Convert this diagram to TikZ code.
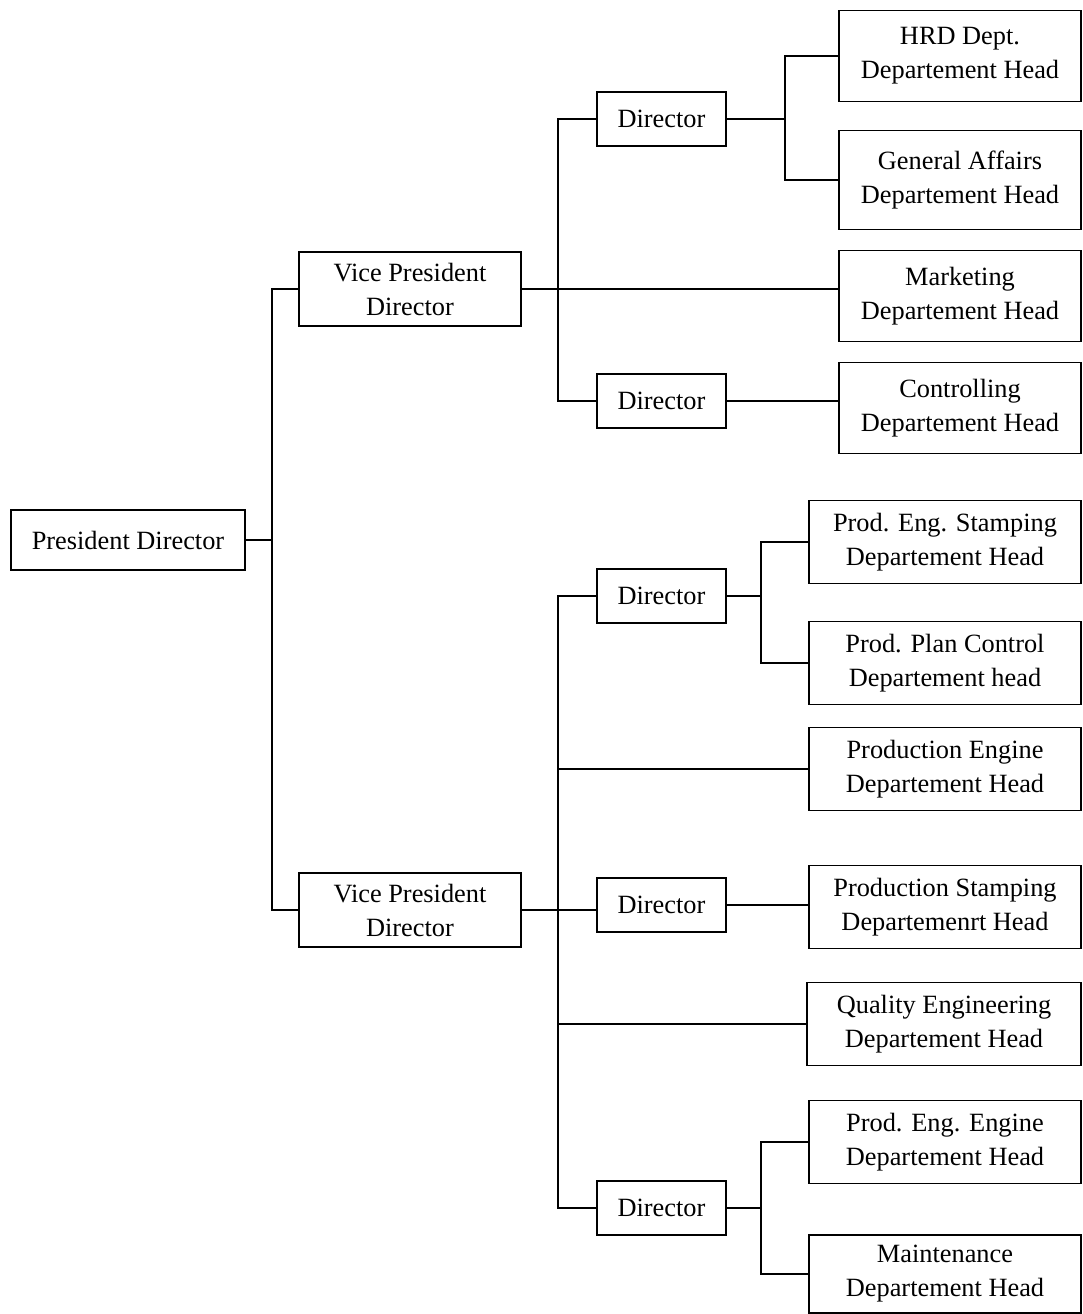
\documentclass[tikz,border=0pt]{standalone}
\usepackage{fontspec}
\setmainfont{Liberation Serif}
\usepackage{tikz}
\usepackage{xcolor}
\usetikzlibrary{positioning}

\begin{document}
\begin{tikzpicture}[x=0.016cm, y=-0.016cm, font=\fontsize{12}{15.5}\selectfont,
    every node/.style={draw, line width=0.7pt, align=center, inner sep=0pt, outer sep=0pt},
    every path/.style={line width=0.7pt},
    pres/.style={minimum width=3.744cm, minimum height=0.96cm},
    vice/.style={minimum width=3.552cm, minimum height=1.184cm},
    dir/.style={minimum width=2.064cm, minimum height=0.864cm},
    dept/.style={minimum width=3.872cm, minimum height=1.45cm},
    deptwide/.style={minimum width=4.352cm, minimum height=1.33cm}]

    \useasboundingbox (0,0) rectangle (1083,1314);

    \node[pres] (president) at (128,540) {President Director};

    \node[vice] (vpA) at (410,289) {Vice President\\Director};
    \node[vice] (vpB) at (410,910) {Vice President\\Director};

    \node[dir] (dirA) at (661.5,119) {Director};
    \node[dir] (dirB) at (661.5,401) {Director};
    \node[dir] (dirC) at (661.5,596) {Director};
    \node[dir] (dirD) at (661.5,905) {Director};
    \node[dir] (dirE) at (661.5,1208) {Director};

    \node[dept] (hrd) at (960,56) {HRD Dept.\\Departement Head};
    \node[dept, minimum height=1.58cm] (affairs) at (960,180) {General Affairs\\Departement Head};
    \node[dept] (marketing) at (960,296) {Marketing\\Departement Head};
    \node[dept] (controlling) at (960,408) {Controlling\\Departement Head};

    \node[deptwide] (stampEng) at (945,542) {Prod. Eng. Stamping\\Departement Head};
    \node[deptwide] (planCtrl) at (945,663) {Prod. Plan Control\\Departement head};
    \node[deptwide] (engine) at (945,769) {Production Engine\\Departement Head};
    \node[deptwide] (stamping) at (945,907) {Production Stamping\\Departemenrt Head};
    \node[deptwide, minimum width=4.384cm] (quality) at (944,1024) {Quality Engineering\\Departement Head};
    \node[deptwide] (engineEng) at (945,1142) {Prod. Eng. Engine\\Departement Head};
    \node[deptwide, minimum height=1.25cm] (maintenance) at (945,1274) {Maintenance\\Departement Head};

    \coordinate (busA) at (558,0);
    \coordinate (busB) at (558,0);

    \draw (president.east) -- ++(27,0);
    \draw (vpA.west) -- ++(-27,0) |- (vpB.west);

    \draw (vpA.east) -- (vpA.east -| marketing.west);
    \draw (dirA.west) -- (dirA.west -| busA) |- (dirB.west);
    \draw (dirA.east) -- ++(59,0);
    \draw (hrd.west) -- ++(-54,0) |- (affairs.west);
    \draw (dirB.east) -- (dirB.east -| controlling.west);

    \draw (vpB.east) -- (vpB.east -| dirD.west);
    \draw (dirC.west) -- (dirC.west -| busB) |- (dirE.west);
    \draw (engine.west) -- (engine.west -| busB);
    \draw (quality.west) -- (quality.west -| busB);
    \draw (dirC.east) -- ++(35,0);
    \draw (stampEng.west) -- ++(-48,0) |- (planCtrl.west);
    \draw (dirD.east) -- (dirD.east -| stamping.west);
    \draw (dirE.east) -- ++(35,0);
    \draw (engineEng.west) -- ++(-48,0) |- (maintenance.west);

\end{tikzpicture}
\end{document}
